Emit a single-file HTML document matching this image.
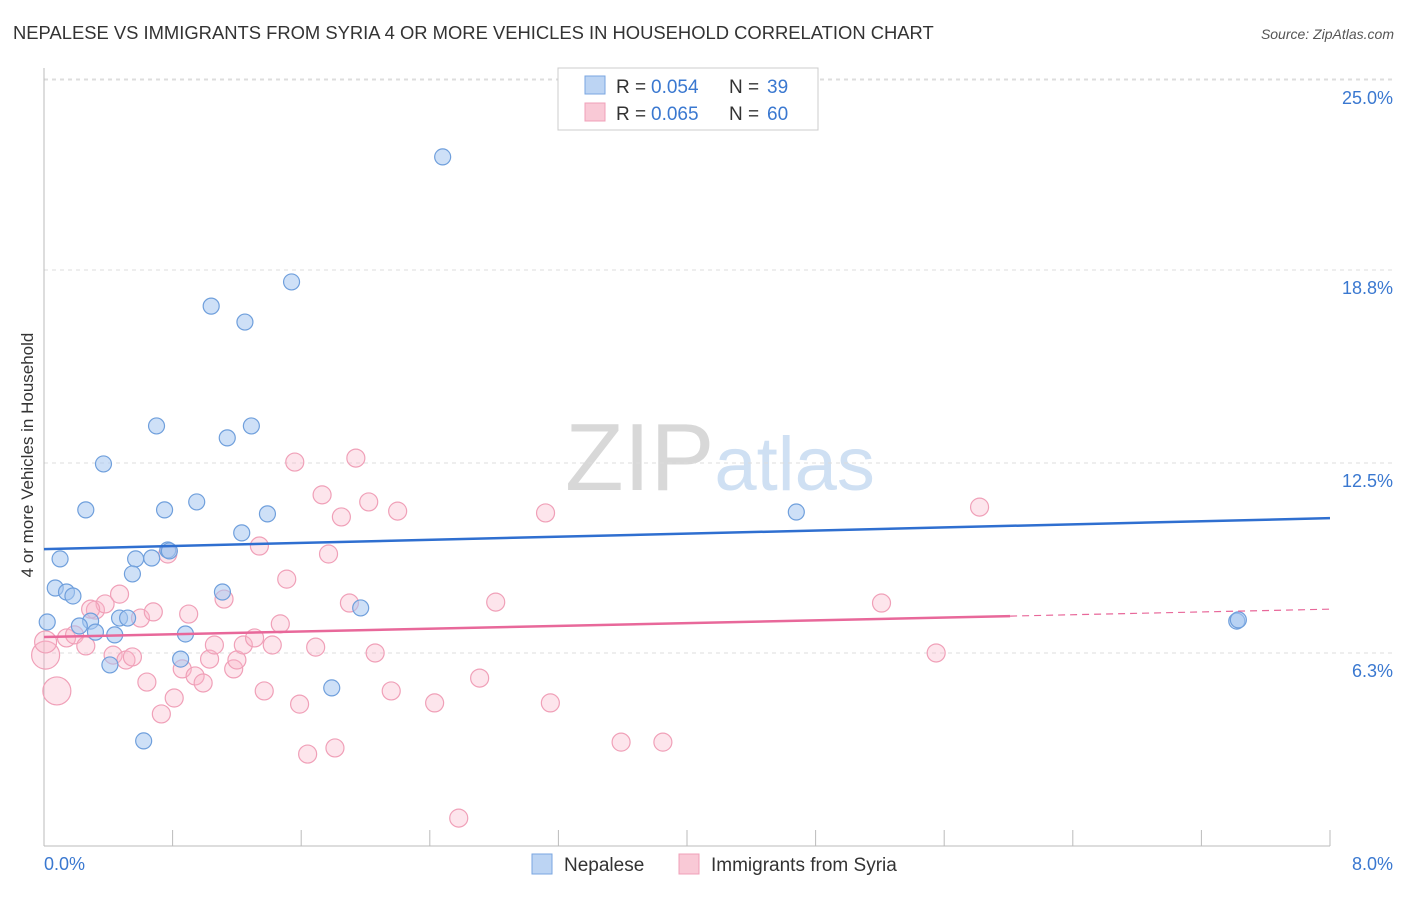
<!DOCTYPE html>
<html><head><meta charset="utf-8"><style>
body{margin:0;background:#fff;font-family:"Liberation Sans",sans-serif;}
svg text{font-family:"Liberation Sans",sans-serif;}
</style></head><body>
<svg id="chart" width="1406" height="892" xmlns="http://www.w3.org/2000/svg">
<text x="13" y="39" font-size="18.4" fill="#333">NEPALESE VS IMMIGRANTS FROM SYRIA 4 OR MORE VEHICLES IN HOUSEHOLD CORRELATION CHART</text>
<text x="1394" y="39" font-size="14" fill="#555" text-anchor="end" font-style="italic">Source: ZipAtlas.com</text>
<text x="720" y="490" font-size="96" text-anchor="middle" fill="#ddd" font-family="Liberation Serif"><tspan fill="#d8d8d8">ZIP</tspan><tspan fill="#cfe0f3" font-family="Liberation Sans" font-size="76">atlas</tspan></text>
<text transform="translate(33,455) rotate(-90)" font-size="17" fill="#333" text-anchor="middle">4 or more Vehicles in Household</text>
<g id="grid"></g><g id="axes"></g><g id="pts"></g><g id="lines"></g>
<g>
<rect x="558" y="68" width="260" height="62" fill="#fff" stroke="#ccc"/>
<rect x="585" y="76" width="20" height="18" fill="#bcd4f3" stroke="#7aa6e0"/>
<text x="616" y="93" font-size="19" fill="#333">R = </text><text x="651" y="93" font-size="19" fill="#3a78d0">0.054</text>
<text x="729" y="93" font-size="19" fill="#333">N = </text><text x="767" y="93" font-size="19" fill="#3a78d0">39</text>
<rect x="585" y="103" width="20" height="18" fill="#f9c9d6" stroke="#f0a0b8"/>
<text x="616" y="120" font-size="19" fill="#333">R = </text><text x="651" y="120" font-size="19" fill="#3a78d0">0.065</text>
<text x="729" y="120" font-size="19" fill="#333">N = </text><text x="767" y="120" font-size="19" fill="#3a78d0">60</text>
</g>
<g>
<rect x="532" y="854" width="20" height="20" fill="#bcd4f3" stroke="#7aa6e0"/>
<text x="564" y="871" font-size="19" fill="#333">Nepalese</text>
<rect x="679" y="854" width="20" height="20" fill="#f9c9d6" stroke="#f0a0b8"/>
<text x="711" y="871" font-size="19" fill="#333">Immigrants from Syria</text>
</g>
</svg>
<script>
const yTicks=[6.3,12.5,18.8,25.0];
const yTickLabels=["6.3%","12.5%","18.8%","25.0%"];
const blueX=[2.48,1.54,1.04,1.25,0.70,1.29,1.14,0.37,0.26,0.75,0.95,1.39,1.23,4.68,0.10,0.57,0.67,0.77,0.78,0.55,0.07,0.14,0.18,1.11,1.97,0.02,0.29,0.22,0.47,0.52,0.32,0.44,0.88,0.85,0.41,1.79,0.62,7.42,7.43];
const blueY=[22.49,18.41,17.62,17.10,13.71,13.71,13.32,12.47,10.97,10.97,11.23,10.84,10.22,10.90,9.37,9.37,9.40,9.66,9.63,8.88,8.42,8.29,8.16,8.29,7.77,7.31,7.34,7.18,7.44,7.44,6.98,6.89,6.92,6.10,5.91,5.16,3.43,7.34,7.38];
const pinkX=[0.01,0.08,0.14,0.19,0.26,0.32,0.38,0.47,0.29,0.43,0.51,0.55,0.60,0.68,0.64,0.73,0.81,0.86,0.90,0.94,0.99,1.03,1.06,1.12,1.18,1.20,1.24,1.31,1.34,1.37,1.42,1.47,1.51,1.56,1.59,1.64,1.69,1.73,1.77,1.81,1.85,1.90,1.94,2.02,2.06,2.16,2.20,2.43,2.58,2.71,2.81,3.12,3.15,3.59,3.85,5.21,5.55,5.82,0.01,0.77];
const pinkY=[6.23,5.06,6.79,6.89,6.53,7.70,7.90,8.22,7.73,6.23,6.07,6.17,7.44,7.64,5.35,4.31,4.83,5.78,7.57,5.55,5.32,6.10,6.56,8.06,5.78,6.07,6.56,6.79,9.79,5.06,6.56,7.25,8.71,12.53,4.63,3.00,6.49,11.46,9.53,3.20,10.74,7.93,12.66,11.23,6.30,5.06,10.93,4.67,0.91,5.48,7.96,10.87,4.67,3.39,3.39,7.93,6.30,11.06,6.66,9.53];
const pinkR=[14,14,9,9,9,9,9,9,9,9,9,9,9,9,9,9,9,9,9,9,9,9,9,9,9,9,9,9,9,9,9,9,9,9,9,9,9,9,9,9,9,9,9,9,9,9,9,9,9,9,9,9,9,9,9,9,9,9,11,9];
const blueTrend=[9.69,10.70];
const pinkTrend=[6.82,7.73];
const pinkSolidEnd=6.01;
const NS="http://www.w3.org/2000/svg";
const X=v=>44+v/8*1286, Y=v=>846-v/25*766;
function mk(t,a,p){const e=document.createElementNS(NS,t);for(const k in a)e.setAttribute(k,a[k]);p.appendChild(e);return e;}
const grid=document.getElementById('grid'),axes=document.getElementById('axes'),pts=document.getElementById('pts'),lines=document.getElementById('lines');
yTicks.forEach((t,i)=>{
 const l=mk('line',{x1:44,x2:1394,y1:Y(t),y2:Y(t),stroke:'#ddd','stroke-dasharray':'4,4'},grid);
 
 
 const tx=mk('text',{x:1393,y:Y(t)+24,'font-size':18,fill:'#3a78d0','text-anchor':'end'},axes);tx.textContent=yTickLabels[i];
 
 
});
mk('line',{x1:44,x2:1394,y1:79,y2:79,stroke:'#ddd','stroke-dasharray':'4,4'},grid);
mk('line',{x1:44,x2:44,y1:68,y2:846,stroke:'#bbb'},axes);
mk('line',{x1:44,x2:1330,y1:846,y2:846,stroke:'#bbb'},axes);
for(let i=1;i<=10;i++){const x=X(i*0.8);mk('line',{x1:x,x2:x,y1:830,y2:846,stroke:'#bbb'},axes);}
const x0=mk('text',{x:44,y:870,'font-size':18,fill:'#3a78d0'},axes);x0.textContent='0.0%';


const x1=mk('text',{x:1393,y:870,'font-size':18,fill:'#3a78d0','text-anchor':'end'},axes);x1.textContent='8.0%';


pinkX.forEach((v,i)=>{const c=mk('circle',{cx:X(v),cy:Y(pinkY[i]),r:pinkR[i],fill:'rgba(248,180,200,0.35)',stroke:'#f0a0b8','stroke-width':1.2},pts);
 
 });
blueX.forEach((v,i)=>{const c=mk('circle',{cx:X(v),cy:Y(blueY[i]),r:8,fill:'rgba(165,198,240,0.55)',stroke:'#6f9fdc','stroke-width':1.2},pts);
 
 });
const bl=mk('line',{x1:X(0),y1:Y(blueTrend[0]),x2:X(8),y2:Y(blueTrend[1]),stroke:'#2f6fd0','stroke-width':2.5},lines);


const pm=pinkTrend[0]+(pinkTrend[1]-pinkTrend[0])*pinkSolidEnd/8;
const pl=mk('line',{x1:X(0),y1:Y(pinkTrend[0]),x2:X(pinkSolidEnd),y2:Y(pm),stroke:'#e8689a','stroke-width':2.5},lines);


const pd=mk('line',{x1:X(pinkSolidEnd),y1:Y(pm),x2:X(8),y2:Y(pinkTrend[1]),stroke:'#e8689a','stroke-width':1.2,'stroke-dasharray':'7,5'},lines);


</script>
</body></html>
